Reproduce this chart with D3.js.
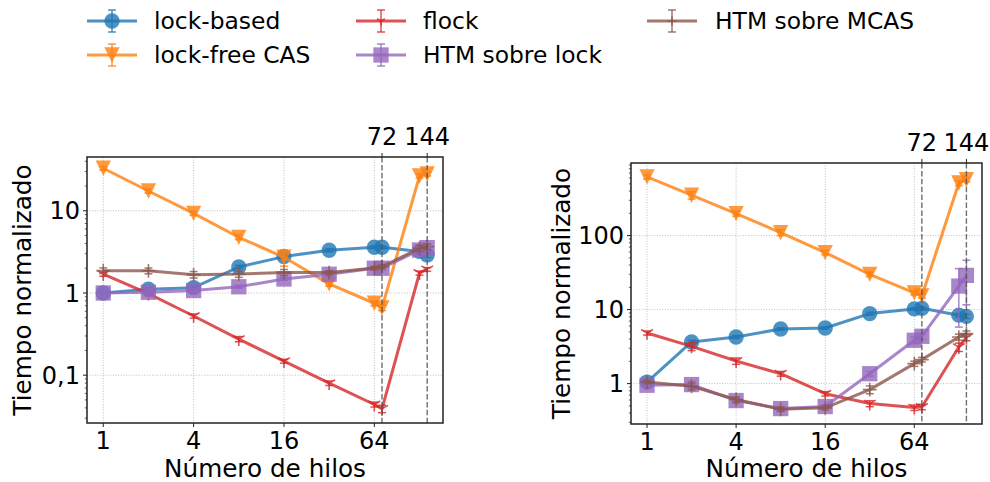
<!DOCTYPE html>
<html>
<head>
<meta charset="utf-8">
<script src="https://cdn.jsdelivr.net/npm/d3@7"></script>
<style>
  html, body { margin: 0; padding: 0; background: #fff; }
  svg { display: block; font-family: "DejaVu Sans", sans-serif; }
</style>
</head>
<body>
<svg id="chart" width="990" height="482"></svg>
<script>
// Thread counts (x axis, log2)
const threads = [1, 2, 4, 8, 16, 32, 64, 72, 128, 144];
const seriesNames = ["lock-based", "lock-free CAS", "flock", "HTM sobre lock", "HTM sobre MCAS"];
const seriesColors = ["#1f77b4", "#ff7f0e", "#d62728", "#9467bd", "#8c564b"];
const seriesMarkers = ["circle", "triangleDown", "triDown", "square", "plus"];

// Left panel: normalized time
const leftLockBased = [1.0, 1.11, 1.16, 2.07, 2.77, 3.31, 3.6, 3.6, 3.2, 2.9];
const leftLockFree  = [32.9, 17.4, 9.3, 4.76, 2.72, 1.29, 0.75, 0.66, 26.5, 28];
const leftFlock     = [1.7, 0.98, 0.525, 0.275, 0.148, 0.080, 0.044, 0.039, 1.75, 1.94];
const leftHtmLock   = [1.0, 1.02, 1.07, 1.19, 1.48, 1.69, 2.0, 2.0, 3.33, 3.56];
const leftHtmMcas   = [1.87, 1.86, 1.67, 1.70, 1.78, 1.77, 2.01, 2.09, 3.5, 3.66];
// Left panel: error (half width)
const leftErrLockBased = [0.03, 0.05, 0.05, 0.1, 0.15, 0.15, 0.15, 0.15, 0.2, 0.2];
const leftErrLockFree  = [1.5, 1.0, 0.5, 0.3, 0.6, 0.08, 0.05, 0.05, 1.5, 1.5];
const leftErrFlock     = [0.1, 0.05, 0.03, 0.02, 0.008, 0.005, 0.003, 0.004, 0.1, 0.1];
const leftErrHtmLock   = [0.03, 0.1, 0.05, 0.05, 0.05, 0.1, 0.1, 0.1, 0.3, 0.3];
const leftErrHtmMcas   = [0.15, 0.15, 0.15, 0.15, 0.15, 0.1, 0.1, 0.1, 0.3, 0.3];

// Right panel: normalized time
const rightLockBased = [1.05, 3.65, 4.26, 5.47, 5.64, 8.84, 10.2, 10.4, 8.4, 8.1];
const rightLockFree  = [620, 351, 198, 110, 59, 30, 16.8, 15.3, 514, 571];
const rightFlock     = [4.83, 3.19, 2.02, 1.36, 0.73, 0.537, 0.474, 0.483, 3.12, 4.19];
const rightHtmLock   = [0.95, 0.97, 0.59, 0.46, 0.49, 1.36, 3.85, 4.36, 20.8, 29];
const rightHtmMcas   = [1.05, 0.92, 0.61, 0.45, 0.47, 0.83, 1.86, 2.11, 4.26, 4.74];
// Right panel: error (half width)
const rightErrLockBased = [0.05, 0.2, 0.2, 0.2, 0.2, 0.4, 0.4, 0.5, 0.5, 0.5];
const rightErrLockFree  = [40, 40, 15, 10, 4, 2, 1, 1, 40, 40];
const rightErrFlock     = [0.3, 0.4, 0.2, 0.1, 0.05, 0.05, 0.04, 0.04, 0.4, 0.4];
const rightErrHtmLock   = [0.05, 0.1, 0.05, 0.03, 0.03, 0.1, 0.4, 0.4, 15, 17.4];
const rightErrHtmMcas   = [0.05, 0.1, 0.05, 0.03, 0.03, 0.1, 0.15, 0.15, 0.4, 0.4];

// Axis ticks
const xTicks = [1, 4, 16, 64];
const xTickLabels = ["1", "4", "16", "64"];
const topTicks = [72, 144];
const topTickLabels = ["72", "144"];
const leftYTicks = [0.1, 1, 10];
const leftYTickLabels = ["0,1", "1", "10"];
const rightYTicks = [1, 10, 100];
const rightYTickLabels = ["1", "10", "100"];
const xLabel = "Número de hilos";
const yLabel = "Tiempo normalizado";

const svg = d3.select("#chart");
const MS = 15.3;          // marker size (px)
const ALPHA = 0.8;

function markerPath(type, s) {
  const h = s / 2;
  switch (type) {
    case "triangleDown": return `M0,${h}L${-h},${-h}L${h},${-h}Z`;
    case "square": return `M${-h},${-h}H${h}V${h}H${-h}Z`;
    case "triDown": return `M0,0V${h}M0,0L${-0.866 * h},${-0.5 * h}M0,0L${0.866 * h},${-0.5 * h}`;
    case "plus": return `M${-h},0H${h}M0,${-h}V${h}`;
  }
  return "";
}

function drawMarker(g, type, x, y, color, s) {
  if (type === "circle") {
    g.append("circle").attr("cx", x).attr("cy", y).attr("r", s / 2)
      .attr("fill", color).attr("fill-opacity", ALPHA);
  } else if (type === "triDown" || type === "plus") {
    g.append("path").attr("d", markerPath(type, s * (type === "triDown" ? 0.9 : 0.9)))
      .attr("transform", `translate(${x},${y})`)
      .attr("fill", "none").attr("stroke", color).attr("stroke-width", 1.6)
      .attr("stroke-opacity", ALPHA);
  } else {
    g.append("path").attr("d", markerPath(type, s))
      .attr("transform", `translate(${x},${y})`)
      .attr("fill", color).attr("fill-opacity", ALPHA);
  }
}

function drawPanel(cfg) {
  const { x0, x1, y0, y1, yDomain, yTicks, yTickLabels, series, errors, yLabelX } = cfg;
  const x = d3.scaleLog().base(2).domain([Math.pow(2, -0.36), Math.pow(2, 7.52)]).range([x0, x1]);
  const y = d3.scaleLog().domain(yDomain).range([y1, y0]);
  const g = svg.append("g");

  // grid
  const grid = g.append("g").attr("stroke", "#b0b0b0").attr("stroke-width", 0.8)
    .attr("stroke-dasharray", "1,1.6");
  xTicks.forEach(t => grid.append("line").attr("x1", x(t)).attr("x2", x(t)).attr("y1", y0).attr("y2", y1));
  yTicks.forEach(t => grid.append("line").attr("x1", x0).attr("x2", x1).attr("y1", y(t)).attr("y2", y(t)));

  // series
  series.forEach((vals, i) => {
    const color = seriesColors[i];
    const err = errors[i];
    const sg = g.append("g");
    const line = d3.line().x((d, j) => x(threads[j])).y(d => y(d));
    sg.append("path").attr("d", line(vals)).attr("fill", "none")
      .attr("stroke", color).attr("stroke-width", 3).attr("stroke-opacity", ALPHA)
      .attr("stroke-linejoin", "round");
    // error bars
    vals.forEach((v, j) => {
      const cx = x(threads[j]);
      const lo = y(Math.max(v - err[j], yDomain[0]));
      const hi = y(v + err[j]);
      const eb = sg.append("g").attr("stroke", color).attr("stroke-width", 1.5).attr("stroke-opacity", ALPHA);
      eb.append("line").attr("x1", cx).attr("x2", cx).attr("y1", lo).attr("y2", hi);
      eb.append("line").attr("x1", cx - 4).attr("x2", cx + 4).attr("y1", lo).attr("y2", lo);
      eb.append("line").attr("x1", cx - 4).attr("x2", cx + 4).attr("y1", hi).attr("y2", hi);
    });
    vals.forEach((v, j) => drawMarker(sg, seriesMarkers[i], x(threads[j]), y(v), color, MS));
  });

  // vertical dashed references at 72 and 144
  topTicks.forEach(t => g.append("line").attr("x1", x(t)).attr("x2", x(t)).attr("y1", y0).attr("y2", y1)
    .attr("stroke", "#555").attr("stroke-opacity", 0.85).attr("stroke-width", 1.4).attr("stroke-dasharray", "5.5,2.4"));

  // frame
  g.append("rect").attr("x", x0).attr("y", y0).attr("width", x1 - x0).attr("height", y1 - y0)
    .attr("fill", "none").attr("stroke", "#222").attr("stroke-width", 1.5);

  // bottom axis ticks
  xTicks.forEach((t, k) => {
    g.append("line").attr("x1", x(t)).attr("x2", x(t)).attr("y1", y1).attr("y2", y1 + 4)
      .attr("stroke", "#222").attr("stroke-width", 1);
    g.append("text").attr("x", x(t)).attr("y", y1 + 26).attr("text-anchor", "middle")
      .attr("font-size", 24).attr("fill", "#000").text(xTickLabels[k]);
  });
  // top axis ticks
  topTicks.forEach((t, k) => {
    g.append("line").attr("x1", x(t)).attr("x2", x(t)).attr("y1", y0).attr("y2", y0 - 4)
      .attr("stroke", "#222").attr("stroke-width", 1);
    g.append("text").attr("x", x(t)).attr("y", y0 - 12).attr("text-anchor", "middle")
      .attr("font-size", 24).attr("fill", "#000").text(topTickLabels[k]);
  });
  // left axis: major + minor ticks
  const lo = Math.floor(Math.log10(yDomain[0])), hiE = Math.ceil(Math.log10(yDomain[1]));
  for (let e = lo; e <= hiE; e++) {
    for (let m = 1; m <= 9; m++) {
      const v = m * Math.pow(10, e);
      if (v < yDomain[0] || v > yDomain[1]) continue;
      g.append("line").attr("x1", x0).attr("x2", x0 - (m === 1 ? 4 : 2.2))
        .attr("y1", y(v)).attr("y2", y(v)).attr("stroke", "#222").attr("stroke-width", m === 1 ? 1 : 0.7);
    }
  }
  yTicks.forEach((t, k) => {
    g.append("text").attr("x", x0 - 7).attr("y", y(t)).attr("dy", "0.36em").attr("text-anchor", "end")
      .attr("font-size", 24).attr("fill", "#000").text(yTickLabels[k]);
  });

  // axis labels
  g.append("text").attr("x", (x0 + x1) / 2).attr("y", 477).attr("text-anchor", "middle")
    .attr("font-size", 24.7).attr("fill", "#000").text(xLabel);
  g.append("text").attr("transform", `translate(${yLabelX},${(y0 + y1) / 2}) rotate(-90)`)
    .attr("text-anchor", "middle").attr("font-size", 24.7).attr("fill", "#000").text(yLabel);
}

drawPanel({
  x0: 87, x1: 443, y0: 157, y1: 423,
  yDomain: [0.0262, 45.1], yTicks: leftYTicks, yTickLabels: leftYTickLabels,
  series: [leftLockBased, leftLockFree, leftFlock, leftHtmLock, leftHtmMcas],
  errors: [leftErrLockBased, leftErrLockFree, leftErrFlock, leftErrHtmLock, leftErrHtmMcas],
  yLabelX: 31
});
drawPanel({
  x0: 631, x1: 982, y0: 163, y1: 424,
  yDomain: [0.2845, 957], yTicks: rightYTicks, yTickLabels: rightYTickLabels,
  series: [rightLockBased, rightLockFree, rightFlock, rightHtmLock, rightHtmMcas],
  errors: [rightErrLockBased, rightErrLockFree, rightErrFlock, rightErrHtmLock, rightErrHtmMcas],
  yLabelX: 570
});

// legend (3 columns, filled column-wise)
const legendCols = [{ hx: 112, tx: 154 }, { hx: 381, tx: 423 }, { hx: 672, tx: 715 }];
const legendRows = [21, 55];
const lg = svg.append("g");
seriesNames.forEach((name, i) => {
  const col = legendCols[Math.floor(i / 2)], cy = legendRows[i % 2];
  const color = seriesColors[i];
  const g = lg.append("g");
  g.append("line").attr("x1", col.hx - 25).attr("x2", col.hx + 25).attr("y1", cy).attr("y2", cy)
    .attr("stroke", color).attr("stroke-width", 3).attr("stroke-opacity", ALPHA);
  const eb = g.append("g").attr("stroke", color).attr("stroke-width", 1.5).attr("stroke-opacity", ALPHA);
  eb.append("line").attr("x1", col.hx).attr("x2", col.hx).attr("y1", cy - 11).attr("y2", cy + 11);
  eb.append("line").attr("x1", col.hx - 4).attr("x2", col.hx + 4).attr("y1", cy - 11).attr("y2", cy - 11);
  eb.append("line").attr("x1", col.hx - 4).attr("x2", col.hx + 4).attr("y1", cy + 11).attr("y2", cy + 11);
  drawMarker(g, seriesMarkers[i], col.hx, cy, color, i === 2 || i === 4 ? 10 : MS);
  g.append("text").attr("x", col.tx).attr("y", cy).attr("dy", "0.36em")
    .attr("font-size", 23.4).attr("fill", "#000").text(name);
});
</script>
</body>
</html>
